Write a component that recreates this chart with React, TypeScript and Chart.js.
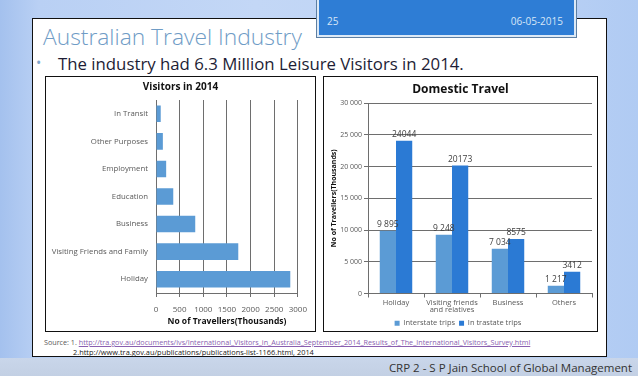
import React, { useEffect, useRef } from "react";
import { Chart, registerables } from "chart.js";
Chart.register(...registerables);

const FONT = "'Open Sans', 'DejaVu Sans', sans-serif";

const visitorCategories = [
  "Holiday",
  "Visiting Friends and Family",
  "Business",
  "Education",
  "Employment",
  "Other Purposes",
  "In Transit",
];
const visitorValues = [2840, 1740, 830, 365, 215, 145, 100];

const domesticCategories = [["Holiday"], ["Visiting friends", "and relatives"], ["Business"], ["Others"]];
const interstateValues = [9895, 9248, 7034, 1217];
const intrastateValues = [24044, 20173, 8575, 3412];
const seriesNames = ["Interstate trips", "In trastate trips"];

const groupSpace = (v: number) => String(v).replace(/\B(?=(\d{3})+(?!\d))/g, " ");

const titlePlugin = (text: string, size: number, y: number) => ({
  id: "customTitle",
  afterDraw(chart: any) {
    const ctx = chart.ctx;
    ctx.save();
    ctx.font = `bold ${size}px ${FONT}`;
    ctx.fillStyle = "#111";
    ctx.textAlign = "center";
    ctx.textBaseline = "middle";
    ctx.fillText(text, chart.width / 2, y);
    ctx.restore();
  },
});

const labelPlugin = {
  id: "barLabels",
  afterDatasetsDraw(chart: any) {
    const ctx = chart.ctx;
    ctx.save();
    ctx.font = `8.5px ${FONT}`;
    ctx.fillStyle = "#404040";
    ctx.textAlign = "center";
    ctx.textBaseline = "bottom";
    chart.data.datasets.forEach((ds: any, di: number) => {
      const meta = chart.getDatasetMeta(di);
      meta.data.forEach((bar: any, i: number) => {
        const v = ds.data[i];
        const txt = di === 0 ? groupSpace(v) : String(v);
        ctx.fillText(txt, bar.x, bar.y - 2);
      });
    });
    ctx.restore();
  },
};

const GRID = "#6e6e6e";

function LeftChart() {
  const ref = useRef<HTMLCanvasElement>(null);
  useEffect(() => {
    const chart = new Chart(ref.current!, {
      type: "bar",
      data: {
        labels: visitorCategories,
        datasets: [
          {
            data: visitorValues,
            backgroundColor: "#5b9bd5",
            categoryPercentage: 1,
            barPercentage: 0.6,
          },
        ],
      },
      options: {
        indexAxis: "y",
        responsive: false,
        animation: false,
        layout: { padding: { top: 23, right: 11, bottom: 2, left: 0 } },
        plugins: { legend: { display: false }, title: { display: false }, tooltip: { enabled: false } },
        scales: {
          x: {
            min: 0,
            max: 3000,
            ticks: {
              stepSize: 500,
              maxRotation: 0,
              minRotation: 0,
              autoSkip: false,
              callback: (v: any) => String(v),
              font: { size: 8, family: FONT },
              color: "#595959",
              padding: 8,
            },
            grid: { color: GRID, tickLength: 4, tickColor: GRID },
            border: { color: GRID },
            title: {
              display: true,
              text: "No of Travellers(Thousands)",
              font: { size: 8.5, weight: "bold", family: FONT },
              color: "#111",
              padding: { top: 0, bottom: 2 },
            },
            afterFit: (s: any) => {
              s.height = 36;
            },
          },
          y: {
            reverse: true,
            grid: { display: false, drawTicks: false },
            border: { display: true, color: GRID },
            ticks: { font: { size: 7.8, family: FONT }, color: "#595959", padding: 8 },
            afterFit: (s: any) => {
              s.width = 110;
            },
          },
        },
      } as any,
      plugins: [titlePlugin("Visitors in 2014", 10, 10)],
    });
    return () => chart.destroy();
  }, []);
  return <canvas ref={ref} width={269} height={254} style={{ display: "block" }} />;
}

function RightChart() {
  const ref = useRef<HTMLCanvasElement>(null);
  useEffect(() => {
    const chart = new Chart(ref.current!, {
      type: "bar",
      data: {
        labels: domesticCategories as any,
        datasets: [
          {
            label: seriesNames[0],
            data: interstateValues,
            backgroundColor: "#5b9bd5",
            categoryPercentage: 0.58,
            barPercentage: 1,
          },
          {
            label: seriesNames[1],
            data: intrastateValues,
            backgroundColor: "#2b7ad4",
            categoryPercentage: 0.58,
            barPercentage: 1,
          },
        ],
      },
      options: {
        responsive: false,
        animation: false,
        layout: { padding: { top: 26, right: 5, bottom: -6, left: 0 } },
        plugins: {
          title: { display: false },
          tooltip: { enabled: false },
          legend: {
            position: "bottom",
            labels: {
              boxWidth: 5,
              boxHeight: 5,
              padding: 4,
              color: "#595959",
              font: { size: 7.5, family: FONT },
            },
          },
        },
        scales: {
          x: {
            grid: { display: true, drawOnChartArea: false, tickLength: 4, color: GRID },
            border: { color: GRID },
            ticks: {
              maxRotation: 0,
              minRotation: 0,
              autoSkip: false,
              font: { size: 7.5, family: FONT, lineHeight: 1.05 },
              color: "#595959",
              padding: 1,
            },
            afterFit: (s: any) => {
              s.height = 22;
            },
          },
          y: {
            min: 0,
            max: 30000,
            ticks: {
              stepSize: 5000,
              callback: (v: any) => groupSpace(Number(v)),
              font: { size: 7, family: FONT },
              color: "#595959",
              padding: 2,
            },
            grid: { color: GRID, tickLength: 4 },
            border: { color: GRID },
            title: {
              display: true,
              text: "No of Travellers(Thousands)",
              font: { size: 7, weight: "bold", family: FONT },
              color: "#111",
              padding: { top: 6, bottom: 0 },
            },
            afterFit: (s: any) => {
              s.width = 44;
            },
          },
        },
      } as any,
      plugins: [titlePlugin("Domestic Travel", 12, 13), labelPlugin],
    });
    return () => chart.destroy();
  }, []);
  return <canvas ref={ref} width={273} height={254} style={{ display: "block" }} />;
}

export default function App() {
  const abs = (l: number, t: number, extra: any = {}) => ({ position: "absolute" as const, left: l, top: t, ...extra });
  return (
    <div
      style={{
        position: "fixed",
        left: 0,
        top: 0,
        width: 638,
        height: 376,
        overflow: "hidden",
        fontFamily: FONT,
        background:
          "linear-gradient(90deg, #a4c1ee 0%, #b9d0f4 6%, #c3d7f6 40%, #bcd2f5 80%, #b0cbf3 100%)",
      }}
    >
      <div style={abs(0, 358, { width: 638, height: 18, background: "linear-gradient(180deg,#c9d6ea,#c3d0e4)" })} />
      {/* white content panel */}
      <div
        style={abs(32, 18, {
          width: 575,
          height: 339,
          background: "#fff",
          border: "1.5px solid #111",
          boxSizing: "border-box",
        })}
      />
      {/* header blue box */}
      <div
        style={abs(317, -2, {
          width: 259,
          height: 39,
          background: "#2e7dd5",
          border: "2px solid #dce9f6",
          outline: "1px solid #5d7fa3",
          boxSizing: "border-box",
        })}
      >
        <span style={abs(8, 14, { color: "#d7e6f7", fontSize: 10 })}>25</span>
        <span style={{ position: "absolute", right: 11, top: 14, color: "#d7e6f7", fontSize: 10 }}>06-05-2015</span>
      </div>
      <div style={abs(43, 21, { color: "#6f9cc6", fontSize: 22.8, fontWeight: 300, whiteSpace: "nowrap" })}>
        Australian Travel Industry
      </div>
      <div style={abs(36, 53, { color: "#7fa6cc", fontSize: 14 })}>•</div>
      <div style={abs(58, 52, { color: "#1d1d35", fontSize: 16.8, whiteSpace: "nowrap" })}>
        The industry had 6.3 Million Leisure Visitors in 2014.
      </div>
      <div style={abs(45, 76, { width: 271, height: 256, border: "1px solid #111", boxSizing: "border-box", background: "#fff" })}>
        <LeftChart />
      </div>
      <div style={abs(323, 76, { width: 275, height: 256, border: "1px solid #111", boxSizing: "border-box", background: "#fff" })}>
        <RightChart />
      </div>
      <div style={abs(44, 337, { fontSize: 7.2, color: "#595959", whiteSpace: "nowrap" })}>
        Source: 1.{" "}
        <span style={{ color: "#8a5fb0", textDecoration: "underline" }}>
          http://tra.gov.au/documents/ivs/International_Visitors_in_Australia_September_2014_Results_of_The_International_Visitors_Survey.html
        </span>
      </div>
      <div style={abs(73, 347, { fontSize: 7.4, color: "#222", whiteSpace: "nowrap" })}>
        2.http://www.tra.gov.au/publications/publications-list-1166.html, 2014
      </div>
      <div style={abs(0, 360, { width: 632, textAlign: "right", fontSize: 11.5, color: "#333", whiteSpace: "nowrap" })}>
        CRP 2 - S P Jain School of Global Management
      </div>
    </div>
  );
}
